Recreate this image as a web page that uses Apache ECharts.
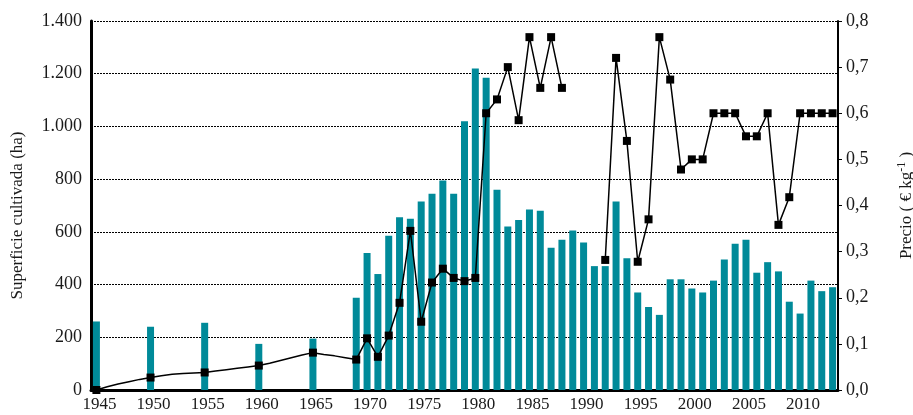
<!DOCTYPE html>
<html>
<head>
<meta charset="utf-8">
<script src="https://cdn.jsdelivr.net/npm/echarts@6/dist/echarts.min.js"></script>
<style>
  html, body { margin: 0; padding: 0; background: #fff; }
  #chart { width: 913px; height: 415px; }
</style>
</head>
<body>
<div id="chart"></div>
<script>
// años (eje x)
const years = [
  1945, 1946, 1947, 1948, 1949, 1950, 1951, 1952, 1953, 1954,
  1955, 1956, 1957, 1958, 1959, 1960, 1961, 1962, 1963, 1964,
  1965, 1966, 1967, 1968, 1969, 1970, 1971, 1972, 1973, 1974,
  1975, 1976, 1977, 1978, 1979, 1980, 1981, 1982, 1983, 1984,
  1985, 1986, 1987, 1988, 1989, 1990, 1991, 1992, 1993, 1994,
  1995, 1996, 1997, 1998, 1999, 2000, 2001, 2002, 2003, 2004,
  2005, 2006, 2007, 2008, 2009, 2010, 2011, 2012, 2013
];
// superficie cultivada (ha)
const superficie = [
  260, null, null, null, null, 240, null, null, null, null,
  255, null, null, null, null, 175, null, null, null, null,
  195, null, null, null, 350, 520, 440, 585, 655, 650,
  715, 745, 795, 745, 1020, 1220, 1185, 760, 620, 645,
  685, 680, 540, 570, 605, 560, 470, 470, 715, 500,
  370, 315, 285, 420, 420, 385, 370, 415, 495, 555,
  570, 445, 485, 450, 335, 290, 415, 375, 390
];
// precio (€ kg-1)
const precio = [
  0.000, 0.007, 0.013, 0.018, 0.023, 0.027, 0.031, 0.034, 0.036, 0.037,
  0.038, 0.041, 0.044, 0.047, 0.050, 0.053, 0.058, 0.064, 0.070, 0.076,
  0.081, 0.077, 0.074, 0.070, 0.066, 0.112, 0.072, 0.118, 0.189, 0.345,
  0.148, 0.233, 0.263, 0.243, 0.236, 0.243, 0.600, 0.630, 0.700, 0.585,
  0.765, 0.655, 0.765, 0.655, null, null, null, 0.282, 0.720, 0.540,
  0.278, 0.370, 0.765, 0.673, 0.478, 0.500, 0.500, 0.600, 0.600, 0.600,
  0.550, 0.550, 0.600, 0.358, 0.418, 0.600, 0.600, 0.600, 0.600
];
// años con marcador antes de la serie anual
const marcados = [1945, 1950, 1955, 1960, 1965];
const inicioAnual = 1969;

const font = 'Liberation Serif';

let chart = echarts.init(document.getElementById('chart'));

let option = {
  animation: false,
  textStyle: { fontFamily: font },
  grid: {
    left: 91, right: 75, top: 21, bottom: 25,
    containLabel: false,
    outerBoundsMode: 'none'
  },
  xAxis: {
    type: 'category',
    data: years,
    boundaryGap: true,
    axisLine: { lineStyle: { color: '#000', width: 3 } },
    axisTick: { show: false },
    axisLabel: {
      interval: 4,
      margin: 6,
      padding: [0, 0, 0, 6],
      color: '#1a1a1a',
      fontFamily: font,
      fontSize: 17
    }
  },
  yAxis: [
    {
      type: 'value',
      min: 0,
      max: 1400,
      interval: 200,
      name: 'Superficie cultivada (ha)',
      nameLocation: 'middle',
      nameGap: 65,
      nameTextStyle: {
        color: '#1a1a1a',
        fontFamily: font,
        fontSize: 17,
        padding: [0, 20, 0, 0]
      },
      axisLine: { show: true, lineStyle: { color: '#000', width: 3 } },
      axisTick: { show: false },
      axisLabel: {
        color: '#1a1a1a',
        fontFamily: font,
        fontSize: 18,
        margin: 9,
        formatter: function (v) {
          return v.toString().replace(/\B(?=(\d{3})+(?!\d))/g, '.');
        }
      },
      splitLine: {
        show: true,
        lineStyle: { color: '#000', type: [2, 1], width: 1 }
      }
    },
    {
      type: 'value',
      min: 0,
      max: 0.8,
      interval: 0.1,
      position: 'right',
      name: 'Precio ( € kg{sup|-1} )',
      nameLocation: 'middle',
      nameGap: 58,
      nameRotate: 90,
      nameTextStyle: {
        color: '#1a1a1a',
        fontFamily: font,
        fontSize: 17,
        lineHeight: 22,
        rich: {
          sup: { fontFamily: font, fontSize: 12, verticalAlign: 'top', lineHeight: 22, padding: [0, 0, 8, 0] }
        }
      },
      axisLine: { show: true, lineStyle: { color: '#000', width: 2 } },
      axisTick: { show: true, inside: false, length: 4, lineStyle: { color: '#000', width: 1 } },
      axisLabel: {
        color: '#1a1a1a',
        fontFamily: font,
        fontSize: 18,
        margin: 8,
        formatter: function (v) {
          return v.toFixed(1).replace('.', ',');
        }
      },
      splitLine: { show: false }
    }
  ],
  series: [
    {
      name: 'Superficie',
      type: 'bar',
      yAxisIndex: 0,
      barWidth: 7,
      itemStyle: { color: '#008a99' },
      data: superficie,
      z: 2
    },
    {
      name: 'Precio',
      type: 'line',
      yAxisIndex: 1,
      symbol: 'rect',
      showAllSymbol: true,
      lineStyle: { color: '#000', width: 1.5 },
      itemStyle: { color: '#000' },
      connectNulls: false,
      data: precio.map(function (v, i) {
        let y = years[i];
        let marca = y >= inicioAnual || marcados.indexOf(y) >= 0;
        return { value: v, symbolSize: marca ? 8 : 0 };
      }),
      z: 3
    }
  ]
};

chart.setOption(option);
</script>
</body>
</html>
